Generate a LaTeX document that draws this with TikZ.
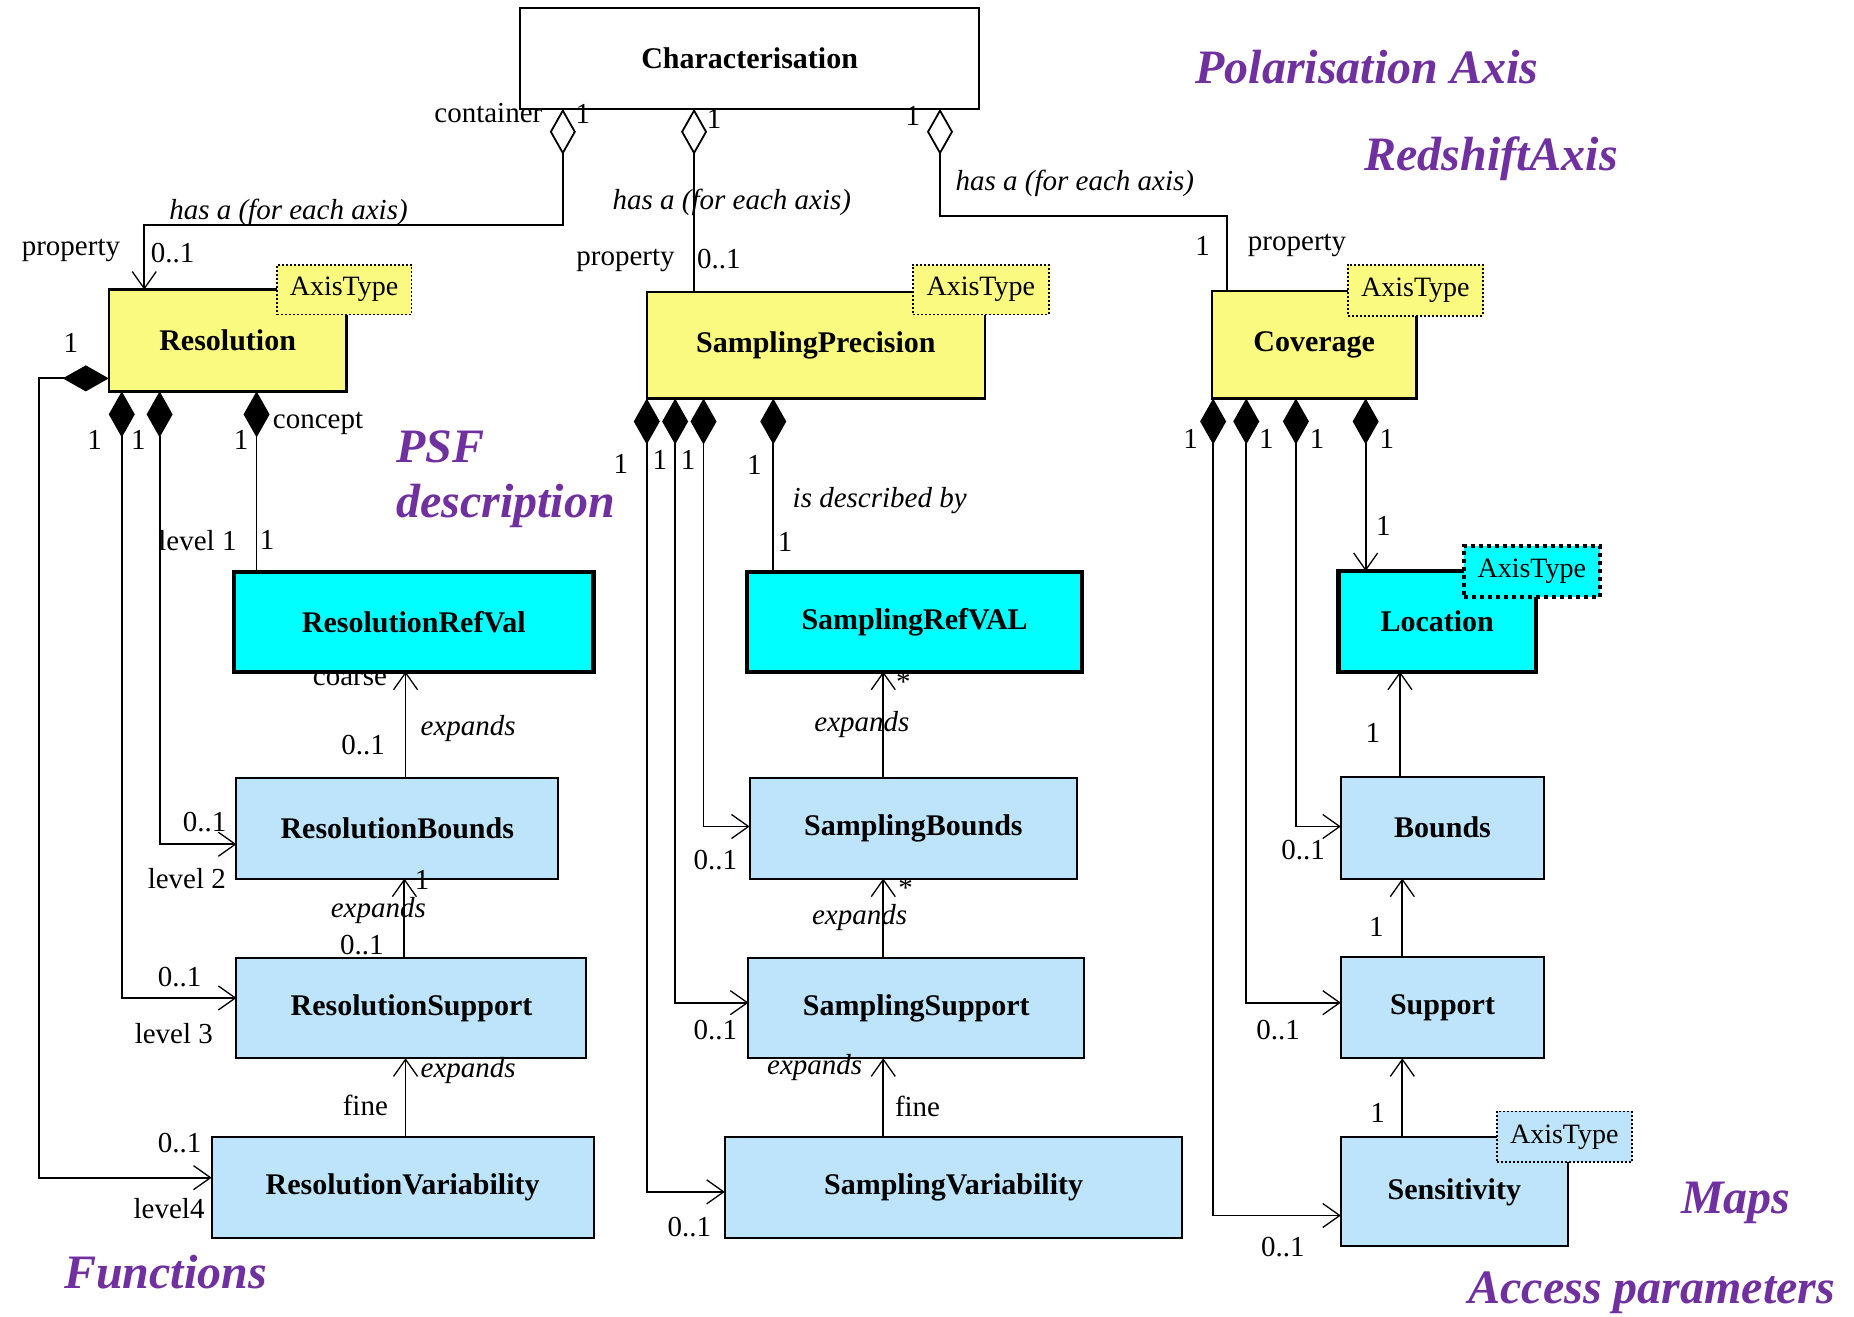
\documentclass[tikz,border=0pt]{standalone}
\usepackage{fontspec}
\setmainfont{Liberation Serif}
\usetikzlibrary{arrows.meta,calc,fit}
\definecolor{ylw}{RGB}{250,250,128}
\definecolor{cyn}{RGB}{0,255,255}
\definecolor{lblue}{RGB}{189,228,250}
\definecolor{purp}{RGB}{112,48,160}
\begin{document}
\begin{tikzpicture}[x=1.1824pt,y=-1.1824pt,
  cname/.style={inner sep=0pt, font=\fontsize{30}{36}\selectfont\bfseries},
  cls/.style={draw=black, inner sep=0pt, outer sep=0pt},
  wcls/.style={cls, fill=white, line width=2.2pt},
  ycls/.style={cls, fill=ylw, line width=2.4pt},
  ccls/.style={cls, fill=cyn, line width=4.2pt},
  bcls/.style={cls, fill=lblue, line width=2pt},
  tag/.style={draw=black, dash pattern=on 2pt off 2pt, line width=1.8pt, inner sep=0pt, outer sep=0pt},
  ctag/.style={tag, line width=4pt, dash pattern=on 4pt off 4pt},
  tagtext/.style={inner sep=0pt, font=\fontsize{28}{34}\selectfont},
  lbl/.style={inner sep=0pt, font=\fontsize{29}{34}\selectfont},
  ilbl/.style={inner sep=0pt, font=\fontsize{29}{34}\selectfont\itshape},
  big/.style={inner sep=0pt, text=purp, font=\fontsize{48}{56}\selectfont\bfseries\itshape},
  con/.style={line width=1.8pt},
  comp/.style={con, arrows={Diamond[length=46pt,width=26pt]-Straight Barb[length=17pt,width=24pt,line width=1.3pt]}},
  compn/.style={con, arrows={Diamond[length=46pt,width=26pt]-}},
  agg/.style={con, arrows={Diamond[open,fill=white,length=46pt,width=26pt]-Straight Barb[length=17pt,width=24pt,line width=1.3pt]}},
  aggn/.style={con, arrows={Diamond[open,fill=white,length=46pt,width=26pt]-}},
  nav/.style={con, arrows={-Straight Barb[length=17pt,width=24pt,line width=1.3pt]}},
]
\fill[white] (0,0) rectangle (1568,1113);
\useasboundingbox (0,0) rectangle (1568,1113);

% hidden-under-box label
\node[lbl, anchor=base] (coarse) at (296,580) {coarse};

% classes
\node[wcls, fit={(440,7)(828,92)}, label={[cname]center:Characterisation}] (char) {};

\node[ycls, fit={(92,245)(293,331)}, label={[cname]center:Resolution}] (res) {};
\node[tag, fill=ylw, fit={(234,224)(348,266)}, label={[tagtext]center:AxisType}] (restag) {};
\node[ycls, fit={(547,247)(833,337)}, label={[cname]center:SamplingPrecision}] (sp) {};
\node[tag, fill=ylw, fit={(772,224)(887,266)}, label={[tagtext]center:AxisType}] (sptag) {};
\node[ycls, fit={(1025,246)(1198,337)}, label={[cname]center:Coverage}] (cov) {};
\node[tag, fill=ylw, fit={(1140,224)(1254,267)}, label={[tagtext]center:AxisType}] (covtag) {};

\node[ccls, fit={(198,484)(502,568)}, label={[cname]center:ResolutionRefVal}] (rrv) {};
\node[ccls, fit={(632,484)(915,568)}, label={[cname]center:SamplingRefVAL}] (srv) {};
\node[ccls, fit={(1132,483)(1299,568)}, label={[cname]center:Location}] (loc) {};
\node[ctag, fill=cyn, fit={(1238,462)(1353,505)}, label={[tagtext]center:AxisType}] (loctag) {};

\node[bcls, fit={(200,658)(472,743)}, label={[cname]center:ResolutionBounds}] (rb) {};
\node[bcls, fit={(634,658)(911,743)}, label={[cname]center:SamplingBounds}] (sb) {};
\node[bcls, fit={(1134,657)(1306,743)}, label={[cname]center:Bounds}] (bnd) {};

\node[bcls, fit={(200,810)(496,895)}, label={[cname]center:ResolutionSupport}] (rs) {};
\node[bcls, fit={(633,810)(917,895)}, label={[cname]center:SamplingSupport}] (ss) {};
\node[bcls, fit={(1134,809)(1306,895)}, label={[cname]center:Support}] (sup) {};

\node[bcls, fit={(179,962)(502,1047)}, label={[cname]center:ResolutionVariability}] (rv) {};
\node[bcls, fit={(613,962)(1000,1047)}, label={[cname]center:SamplingVariability}] (sv) {};
\node[bcls, fit={(1134,962)(1326,1054)}, label={[cname]center:Sensitivity}] (sen) {};
\node[tag, fill=lblue, fit={(1266,940)(1380,983)}, label={[tagtext]center:AxisType}] (sentag) {};

% aggregations from Characterisation
\draw[agg] ($(char.south west)+(36,0)$) -- ++(0,98) -| ($(res.north west)+(30,0)$);
\draw[aggn] ($(char.south west)+(147,0)$) -- ($(sp.north west)+(40,0)$);
\draw[aggn] ($(char.south west)+(355,0)$) -- ++(0,91) -| ($(cov.north west)+(13,0)$);

% Resolution compositions
\draw[comp] ($(res.south west)+(0,-11)$) -- ++(-59,0) |- ($(rv.north west)+(0,34)$);
\draw[comp] ($(res.south west)+(11,0)$) |- ($(rs.north west)+(0,34)$);
\draw[comp] ($(res.south west)+(43,0)$) |- ($(rb.north west)+(0,56)$);
\draw[compn] ($(res.south west)+(125,0)$) -- ($(rrv.north west)+(19,0)$);
\draw[nav] ($(rb.north west)+(143,0)$) -- ($(rrv.south west)+(145,0)$);
\draw[nav] ($(rs.north west)+(142,0)$) -- ($(rb.south west)+(142,0)$);
\draw[nav] ($(rv.north west)+(164,0)$) -- ($(rs.south west)+(143,0)$);

% SamplingPrecision compositions
\draw[comp] (sp.south west) |- ($(sv.north west)+(0,46)$);
\draw[comp] ($(sp.south west)+(24,0)$) |- ($(ss.north west)+(0,38)$);
\draw[comp] ($(sp.south west)+(48,0)$) |- ($(sb.north west)+(0,41)$);
\draw[compn] ($(sp.south west)+(107,0)$) -- ($(srv.north west)+(22,0)$);
\draw[nav] ($(sb.north west)+(113,0)$) -- ($(srv.south west)+(115,0)$);
\draw[nav] ($(ss.north west)+(114,0)$) -- ($(sb.south west)+(113,0)$);
\draw[nav] ($(sv.north west)+(134,0)$) -- ($(ss.south west)+(114,0)$);

% Coverage compositions
\draw[comp] ($(cov.south west)+(1,0)$) |- ($(sen.north west)+(0,66)$);
\draw[comp] ($(cov.south west)+(29,0)$) |- ($(sup.north west)+(0,39)$);
\draw[comp] ($(cov.south west)+(71,0)$) |- ($(bnd.north west)+(0,42)$);
\draw[comp] ($(cov.south west)+(130,0)$) -- ($(loc.north west)+(23,0)$);
\draw[nav] ($(bnd.north west)+(50,0)$) -- ($(loc.south west)+(52,0)$);
\draw[nav] ($(sup.north west)+(52,0)$) -- ($(bnd.south west)+(52,0)$);
\draw[nav] ($(sen.north west)+(52,0)$) -- ($(sup.south west)+(52,0)$);

% top labels
\node[lbl] (l1) at (413,96) {container};
\node[lbl] (l2) at (493,96) {1};
\node[lbl] (l3) at (604,101) {1};
\node[lbl] (l4) at (772,98) {1};
\node[ilbl] (l5) at (244,180) {has a (for each axis)};
\node[ilbl] (l6) at (619,171) {has a (for each axis)};
\node[ilbl] (l7) at (909,155) {has a (for each axis)};
\node[lbl] (l8) at (60,212) {property};
\node[lbl] (l9) at (146,214) {0..1};
\node[lbl] (l10) at (529,220) {property};
\node[lbl] (l11) at (608,219) {0..1};
\node[lbl] (l12) at (1017,208) {1};
\node[lbl] (l13) at (1097,208) {property};

% Resolution labels
\node[lbl] (r1) at (60,290) {1};
\node[lbl] (r2) at (80,372) {1};
\node[lbl] (r3) at (117,372) {1};
\node[lbl] (r4) at (204,372) {1};
\node[lbl] (r5) at (269,358) {concept};
\node[lbl] (r6) at (167,457) {level 1};
\node[lbl] (r7) at (226,457) {1};
\node[lbl] (r8) at (307,630) {0..1};
\node[ilbl] (r9) at (396,616) {expands};
\node[lbl] (r10) at (173,695) {0..1};
\node[lbl] (r11) at (158,743) {level 2};
\node[lbl] (r12) at (357,744) {1};
\node[ilbl] (r13) at (320,770) {expands};
\node[lbl] (r14) at (306,799) {0..1};
\node[lbl] (r15) at (152,826) {0..1};
\node[lbl] (r16) at (147,874) {level 3};
\node[ilbl] (r17) at (396,905) {expands};
\node[lbl] (r18) at (309,935) {fine};
\node[lbl] (r19) at (152,967) {0..1};
\node[lbl] (r20) at (143,1022) {level4};

% SamplingPrecision labels
\node[lbl] (s1) at (525,392) {1};
\node[lbl] (s2) at (558,389) {1};
\node[lbl] (s3) at (582,389) {1};
\node[lbl] (s4) at (638,393) {1};
\node[ilbl] (s5) at (744,423) {is described by};
\node[lbl] (s6) at (664,458) {1};
\node[lbl] (s7) at (764,577) {*};
\node[ilbl] (s8) at (729,613) {expands};
\node[lbl] (s9) at (605,727) {0..1};
\node[lbl] (s10) at (766,751) {*};
\node[ilbl] (s11) at (727,776) {expands};
\node[lbl] (s12) at (605,871) {0..1};
\node[ilbl] (s13) at (689,903) {expands};
\node[lbl] (s14) at (776,936) {fine};
\node[lbl] (s15) at (583,1038) {0..1};

% Coverage labels
\node[lbl] (c1) at (1007,371) {1};
\node[lbl] (c2) at (1071,371) {1};
\node[lbl] (c3) at (1114,371) {1};
\node[lbl] (c4) at (1173,371) {1};
\node[lbl] (c5) at (1170,445) {1};
\node[lbl] (c6) at (1161,620) {1};
\node[lbl] (c7) at (1102,719) {0..1};
\node[lbl] (c8) at (1164,784) {1};
\node[lbl] (c9) at (1081,871) {0..1};
\node[lbl] (c10) at (1165,941) {1};
\node[lbl] (c11) at (1085,1055) {0..1};

% purple annotations
\node[big] (p1) at (1156,57) {Polarisation Axis};
\node[big] (p2) at (1261,134) {RedshiftAxis};
\node[big, anchor=west] (p3) at (335,378) {PSF};
\node[big, anchor=west] (p4) at (335,428) {description};
\node[big] (p5) at (140,1076) {Functions};
\node[big] (p6) at (1468,1017) {Maps};
\node[big] (p7) at (1397,1093) {Access parameters};
\end{tikzpicture}
\end{document}
